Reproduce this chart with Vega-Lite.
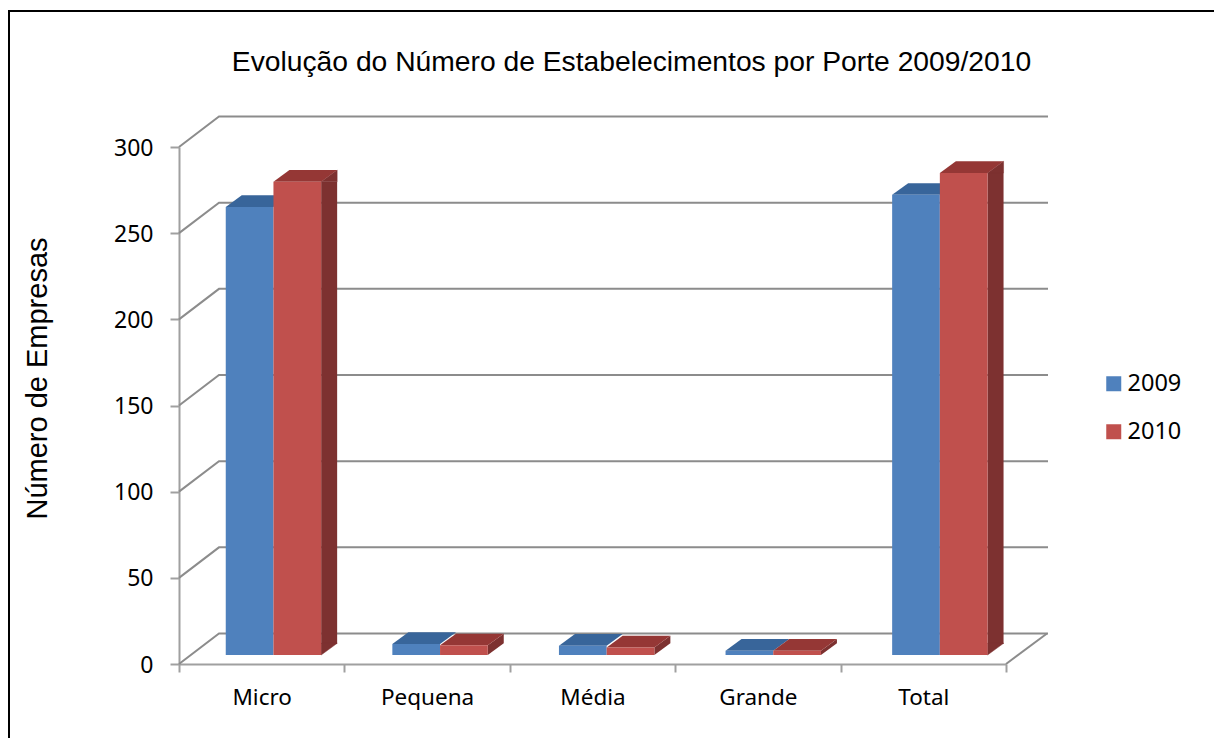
{
"$schema":"https://vega.github.io/schema/vega-lite/v6.json",
"width":827,"height":517,
"autosize":{"type":"none"},
"padding":{"left":179,"top":147,"right":208,"bottom":74},
"background":"white",
"config":{"view":{"stroke":null}},
"title":{"text":"Evolução do Número de Estabelecimentos por Porte 2009/2010","font":"Liberation Sans","fontSize":28.25,"fontWeight":"normal","color":"#000","anchor":"middle","dx":39,"offset":-67},
"datasets":{
"bars":[
{"Porte":"Micro","Ano":"2009","Empresas":260},
{"Porte":"Micro","Ano":"2010","Empresas":274.6},
{"Porte":"Pequena","Ano":"2009","Empresas":6.4},
{"Porte":"Pequena","Ano":"2010","Empresas":5.6},
{"Porte":"Média","Ano":"2009","Empresas":5.4},
{"Porte":"Média","Ano":"2010","Empresas":4.4},
{"Porte":"Grande","Ano":"2009","Empresas":2.5},
{"Porte":"Grande","Ano":"2010","Empresas":2.5},
{"Porte":"Total","Ano":"2009","Empresas":267},
{"Porte":"Total","Ano":"2010","Empresas":279.7}],
"ticks":[{"t":0},{"t":50},{"t":100},{"t":150},{"t":200},{"t":250},{"t":300}]
},
"data":{"name":"bars"},
"layer":[
{"data":{"values":[{"f":1}]},
 "mark":{"type":"rect","fill":null,"stroke":"#000","strokeWidth":2,"clip":false},
 "encoding":{"x":{"value":-170},"x2":{"value":1100},"y":{"value":-136},"y2":{"value":700}}},
{"layer":[
{"data":{"name":"ticks"},
 "mark":{"type":"point","shape":"M0,0 L40,-30.5 L869,-30.5","size":4,"filled":false,"stroke":"#8c8c8c","strokeWidth":2,"opacity":1},
 "encoding":{"x":{"datum":"Micro","bandPosition":0,"type":"nominal","sort":["Micro","Pequena","Média","Grande","Total"],"scale":{"domain":["Micro","Pequena","Média","Grande","Total"],"paddingInner":0,"paddingOuter":0},
   "axis":{"title":null,"labelAngle":0,"tickBand":"extent","domainColor":"#a0a0a0","domainWidth":2,"tickColor":"#a0a0a0","tickWidth":2,"tickSize":8,"labelFont":"Noto Sans","labelFontSize":22.5,"labelColor":"#000","labelPadding":14}},
  "y":{"field":"t","type":"quantitative","scale":{"domain":[0,300],"nice":false},
   "axis":{"title":"Número de Empresas","titleFont":"Liberation Sans","titleFontSize":29,"titleFontWeight":"normal","titleColor":"#000","titleX":-127,"titleY":231,"values":[0,50,100,150,200,250,300],"grid":false,"domainColor":"#a0a0a0","domainWidth":2,"tickColor":"#a0a0a0","tickWidth":2,"tickSize":9,"labelFont":"Noto Sans","labelFontSize":23,"labelColor":"#000","labelPadding":17,"labelOffset":1}}}},
{"data":{"values":[{"t":0}]},
 "mark":{"type":"point","shape":"M0,0 L41,-30.5","size":4,"filled":false,"stroke":"#8c8c8c","strokeWidth":2,"opacity":1},
 "encoding":{"x":{"datum":"Total","bandPosition":1,"type":"nominal"},"y":{"field":"t","type":"quantitative"}}}
]},
{"layer":[
{"transform":[{"filter":"datum.Empresas > 10 && datum.Ano == '2010'"}],
 "mark":{"type":"bar","width":16,"xOffset":66.85,"yOffset":-9,"y2Offset":-20,"fill":"#7d3130"},
 "encoding":{"x":{"field":"Porte","type":"nominal","sort":["Micro","Pequena","Média","Grande","Total"],"axis":null,"scale":{"domain":["Micro","Pequena","Média","Grande","Total"],"range":[0,833],"paddingInner":0,"paddingOuter":0}},"y":{"field":"Empresas","type":"quantitative"},"y2":{"datum":0}}},
{"transform":[{"filter":"datum.Empresas > 10 && datum.Ano == '2010'"}],
 "mark":{"type":"point","shape":"M23.85,0 L39.85,-11.7 L39.85,0 Z","size":4,"filled":true,"opacity":1,"strokeWidth":0.5,"stroke":"#7d3130","xOffset":35,"yOffset":-9,"fill":"#7d3130"},
 "encoding":{"x":{"field":"Porte","type":"nominal"},"y":{"field":"Empresas","type":"quantitative"}}},
{"transform":[{"filter":"datum.Empresas > 10 && datum.Ano == '2010'"}],
 "mark":{"type":"point","shape":"M23.85,0 L39.85,-11.7 L23.85,-11.7 Z","size":4,"filled":true,"opacity":1,"strokeWidth":0.5,"stroke":"#7d3130","xOffset":35,"yOffset":-9,"fill":"#7d3130"},
 "encoding":{"x":{"field":"Porte","type":"nominal"},"y":{"datum":0}}},
{"transform":[{"filter":"datum.Empresas <= 10 && datum.Ano == '2010'"}],
 "mark":{"type":"point","size":4,"filled":true,"opacity":1,"strokeWidth":0,"xOffset":35,"yOffset":-9,"fill":"#7d3130"},
 "encoding":{"x":{"field":"Porte","type":"nominal"},"y":{"datum":0},
  "shape":{"field":"Porte","type":"nominal","legend":null,"scale":{"domain":["Pequena","Média","Grande"],"range":["M23.85,0 L23.85,-9.65 L39.85,-21.35 L39.85,-11.7 Z","M23.85,0 L23.85,-7.6 L39.85,-19.3 L39.85,-11.7 Z","M23.85,0 L23.85,-4.3 L39.85,-16 L39.85,-11.7 Z"]}}}},
{"transform":[{"filter":"datum.Ano == '2009'"}],
 "mark":{"type":"point","shape":"M-23.85,0 L23.85,0 L39.85,-11.7 L-7.85,-11.7 Z","size":4,"filled":true,"opacity":1,"strokeWidth":0,"xOffset":-12.7,"yOffset":-9,"fill":"#38659a"},
 "encoding":{"x":{"field":"Porte","type":"nominal"},"y":{"field":"Empresas","type":"quantitative"}}},
{"transform":[{"filter":"datum.Ano == '2010'"}],
 "mark":{"type":"point","shape":"M-23.85,0 L23.85,0 L39.85,-11.7 L-7.85,-11.7 Z","size":4,"filled":true,"opacity":1,"strokeWidth":0,"xOffset":35,"yOffset":-9,"fill":"#953735"},
 "encoding":{"x":{"field":"Porte","type":"nominal"},"y":{"field":"Empresas","type":"quantitative"}}},
{"transform":[{"filter":"datum.Ano == '2009'"}],
 "mark":{"type":"bar","width":47.7,"xOffset":-12.7,"yOffset":-9,"y2Offset":-9},
 "encoding":{"x":{"field":"Porte","type":"nominal"},
  "y":{"field":"Empresas","type":"quantitative"},"y2":{"datum":0},
  "color":{"field":"Ano","type":"nominal","scale":{"domain":["2009","2010"],"range":["#4f81bd","#c0504d"]},
   "legend":{"title":null,"orient":"none","legendX":923,"legendY":225,"symbolType":"square","symbolSize":225,"symbolStrokeWidth":0,"labelFont":"Noto Sans","labelFontSize":23.5,"labelColor":"#000","labelOffset":2,"rowPadding":23,"padding":0}}}},
{"transform":[{"filter":"datum.Ano == '2010'"}],
 "mark":{"type":"bar","width":47.7,"xOffset":35,"yOffset":-9,"y2Offset":-9},
 "encoding":{"x":{"field":"Porte","type":"nominal"},
  "y":{"field":"Empresas","type":"quantitative"},"y2":{"datum":0},
  "color":{"field":"Ano","type":"nominal"}}}
]}
],
"resolve":{"scale":{"x":"independent"}}
}
